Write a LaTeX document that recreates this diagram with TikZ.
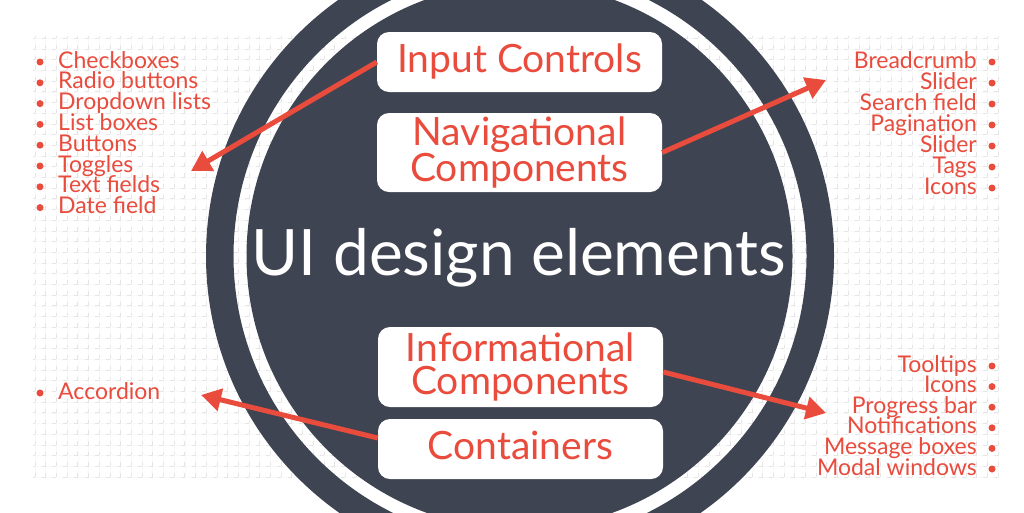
\documentclass[tikz,border=0pt]{standalone}
\usepackage{fontspec}
\setmainfont{Lato}
\usetikzlibrary{arrows.meta}
\definecolor{uired}{HTML}{E94B3C}
\definecolor{uidark}{HTML}{3F4452}
\definecolor{gridline}{HTML}{F9F9F9}
\definecolor{gridmark}{HTML}{E5E5E5}
\begin{document}
\begin{tikzpicture}[x=1pt,y=-1pt,
  box/.style={fill=white, rounded corners=12pt, minimum width=285pt, inner sep=0pt,
    text=uired, font=\fontsize{39}{33}\selectfont, align=center},
  single/.style={text height=28pt, text depth=7pt},
  item/.style={text=uired, font=\fontsize{23}{21}\selectfont, inner sep=0pt, text height=14pt, text depth=4pt},
  dot/.style={circle, fill=uired, minimum size=7pt, inner sep=0pt},
  arr/.style={draw=uired, line width=5pt, -{Triangle[length=20pt,width=22pt]}},
  gline/.style={draw=gridline, line width=0.5pt},
  gmark/.style={draw=gridmark, line width=0.8pt, dash pattern=on 4pt off 6.7pt, dash phase=2pt},
]
\useasboundingbox (0,0) rectangle (1024,512);
\clip (0,0) rectangle (1024,512);
\fill[white] (0,0) rectangle (1024,512);
% background grid
\foreach \i in {0,...,90} {
  \draw[gline] ({35+10.7*\i},38.3) -- ({35+10.7*\i},477);
  \draw[gmark] ({35+10.7*\i},36.3) -- ({35+10.7*\i},479);
}
\foreach \j in {0,...,41} {
  \draw[gline] (35,{38.3+10.7*\j}) -- (998,{38.3+10.7*\j});
  \draw[gmark] (33,{38.3+10.7*\j}) -- (1000,{38.3+10.7*\j});
}
% circles
\fill[uidark, even odd rule] (520,256) circle[radius=314pt] (520,256) circle[radius=286.5pt];
\fill[uidark] (519.5,256) circle[radius=273pt];
% title
\node[text=white, font=\fontsize{64}{64}\selectfont, inner sep=0pt, anchor=base] (title) at (519,275) {UI design elements};
% boxes
\node[box, single, minimum height=60pt] (ic) at (519.5,62) {Input Controls};
\node[box, minimum height=79pt] (nav) at (519.5,152.5) {Navigational\\Components};
\node[box, minimum height=80pt] (info) at (520.5,367) {Informational\\Components};
\node[box, single, minimum height=60pt] (cont) at (520.5,449) {Containers};
% arrow end points
\coordinate (tipA) at (191,171);
\coordinate (tipB) at (826,80);
\coordinate (tipC) at (826,413);
\coordinate (tipD) at (201,395);
\draw[arr] (ic.west) -- (tipA);
\draw[arr] (nav.east) -- (tipB);
\draw[arr] ([yshift=-5pt]info.east) -- (tipC);
\draw[arr] ([yshift=11pt]cont.west) -- (tipD);
% left list
\foreach \t [count=\i from 0] in {Checkboxes,Radio buttons,Dropdown lists,List boxes,Buttons,Toggles,Text fields,Date field} {
  \node[item, anchor=base west] (L\i) at (58,{68+20.8*\i}) {\t};
  \node[dot] (LB\i) at (40,{62+20.8*\i}) {};
}
% right top list
\foreach \t [count=\i from 0] in {Breadcrumb,Slider,Search field,Pagination,Slider,Tags,Icons} {
  \node[item, anchor=base east] (R\i) at (977,{68+21*\i}) {\t};
  \node[dot] (RB\i) at (992,{62+21*\i}) {};
}
% right bottom list
\foreach \t [count=\i from 0] in {Tooltips,Icons,Progress bar,Notifications,Message boxes,Modal windows} {
  \node[item, anchor=base east] (S\i) at (977,{372+20.6*\i}) {\t};
  \node[dot] (SB\i) at (992,{366+20.6*\i}) {};
}
% accordion
\node[item, anchor=base west] (acc) at (58,399) {Accordion};
\node[dot] (accB) at (40,393) {};
\end{tikzpicture}
\end{document}
